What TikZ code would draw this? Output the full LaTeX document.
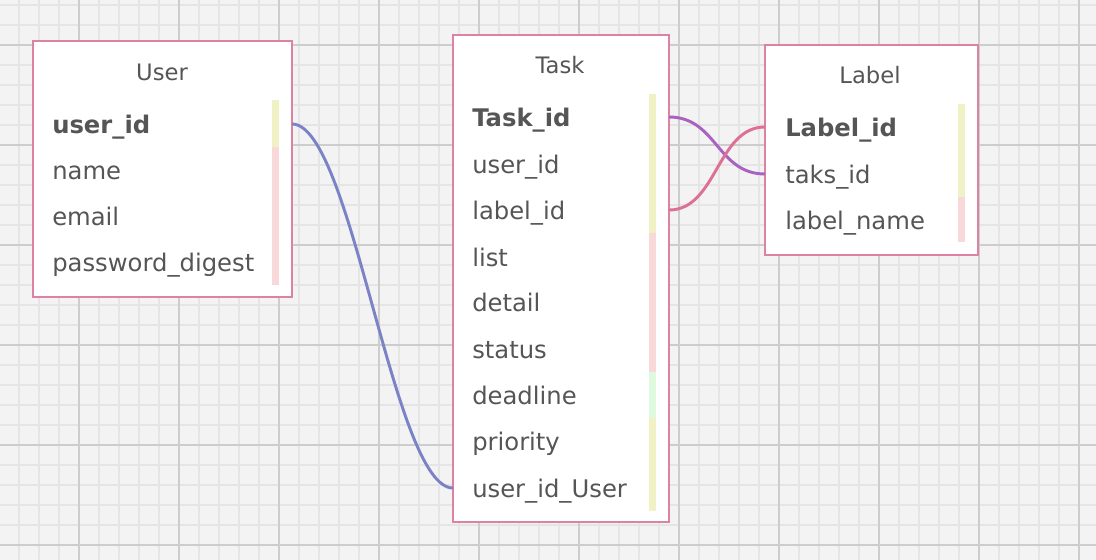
\documentclass[tikz,border=0pt]{standalone}
\usepackage{fontspec}
\setmainfont{DejaVu Sans}
\definecolor{bg}{HTML}{F3F3F3}
\definecolor{minorc}{HTML}{E5E5E5}
\definecolor{majorc}{HTML}{CDCDCD}
\definecolor{bordc}{HTML}{DE82A5}
\definecolor{txtc}{HTML}{555555}
\definecolor{yelbar}{HTML}{F1F1C6}
\definecolor{pinkbar}{HTML}{F8D8D8}
\definecolor{greenbar}{HTML}{DEFADE}
\definecolor{bluec}{HTML}{7B82C6}
\definecolor{purpc}{HTML}{A962C2}
\definecolor{pinkc}{HTML}{DE6F96}
\tikzset{
  tbl/.style={draw=bordc, line width=1.6pt, fill=white, inner sep=0pt},
  ttl/.style={text=txtc, font=\fontsize{17}{19}\selectfont, inner sep=0pt, anchor=base},
  fld/.style={text=txtc, font=\fontsize{18.2}{20}\selectfont, inner sep=0pt, anchor=base west},
  key/.style={fld, font=\fontsize{18.2}{20}\selectfont\bfseries},
  conn/.style={line width=2.2pt},
}
\begin{document}
\begin{tikzpicture}[x=0.75pt, y=-0.75pt]
\useasboundingbox (0,0) rectangle (1096,560);
\fill[bg] (0,0) rectangle (1096,560);
% minor grid
\foreach \x in {19,39,...,1096} \draw[minorc, line width=1.1pt] (\x,0) -- (\x,560);
\foreach \y in {5,25,...,560} \draw[minorc, line width=1.1pt] (0,\y) -- (1096,\y);
% major grid
\foreach \x in {79,179,...,1096} \draw[majorc, line width=1.5pt] (\x,0) -- (\x,560);
\foreach \y in {45,145,...,560} \draw[majorc, line width=1.5pt] (0,\y) -- (1096,\y);

% ---------- User ----------
\node[tbl, minimum width=259*0.75pt, minimum height=256*0.75pt] (user) at (162.5,169) {};
\node[ttl] (userT) at (162,80) {User};
\fill[yelbar] (272,100) rectangle (279,147);
\fill[pinkbar] (272,147) rectangle (279,285);
\node[key] (u1) at (52,133) {user\_id};
\node[fld] (u2) at (52,179.5) {name};
\node[fld] (u3) at (52,225.5) {email};
\node[fld] (u4) at (52,271.5) {password\_digest};

% ---------- Task ----------
\node[tbl, minimum width=216*0.75pt, minimum height=487*0.75pt] (task) at (561,278.5) {};
\node[ttl] (taskT) at (560,74) {Task};
\fill[yelbar] (649,94) rectangle (656,233);
\fill[pinkbar] (649,233) rectangle (656,372);
\fill[greenbar] (649,372) rectangle (656,418);
\fill[yelbar] (649,418) rectangle (656,511);
\node[key] (t1) at (472,126.5) {Task\_id};
\node[fld] (t2) at (472,173.5) {user\_id};
\node[fld] (t3) at (472,219.5) {label\_id};
\node[fld] (t4) at (472,266.5) {list};
\node[fld] (t5) at (472,311.5) {detail};
\node[fld] (t6) at (472,358.5) {status};
\node[fld] (t7) at (472,404.5) {deadline};
\node[fld] (t8) at (472,450.5) {priority};
\node[fld] (t9) at (472,497.5) {user\_id\_User};

% ---------- Label ----------
\node[tbl, minimum width=213*0.75pt, minimum height=210*0.75pt] (label) at (871.5,150) {};
\node[ttl] (labelT) at (870,84) {Label};
\fill[yelbar] (958,104) rectangle (965,197);
\fill[pinkbar] (958,197) rectangle (965,242);
\node[key] (l1) at (785,136.5) {Label\_id};
\node[fld] (l2) at (785,183.5) {taks\_id};
\node[fld] (l3) at (785,229.5) {label\_name};

% ---------- connectors ----------
\coordinate (ua) at (292,124);
\coordinate (tb) at (453,488);
\coordinate (ta) at (669,117);
\coordinate (tc) at (669,210);
\coordinate (la) at (765,127);
\coordinate (lb) at (765,174);
\draw[conn, bluec] (ua) .. controls +(60,0) and +(-60,0) .. (tb);
\draw[conn, purpc] (ta) .. controls +(48,0) and +(-48,0) .. (lb);
\draw[conn, pinkc] (tc) .. controls +(48,0) and +(-48,0) .. (la);
\end{tikzpicture}
\end{document}
